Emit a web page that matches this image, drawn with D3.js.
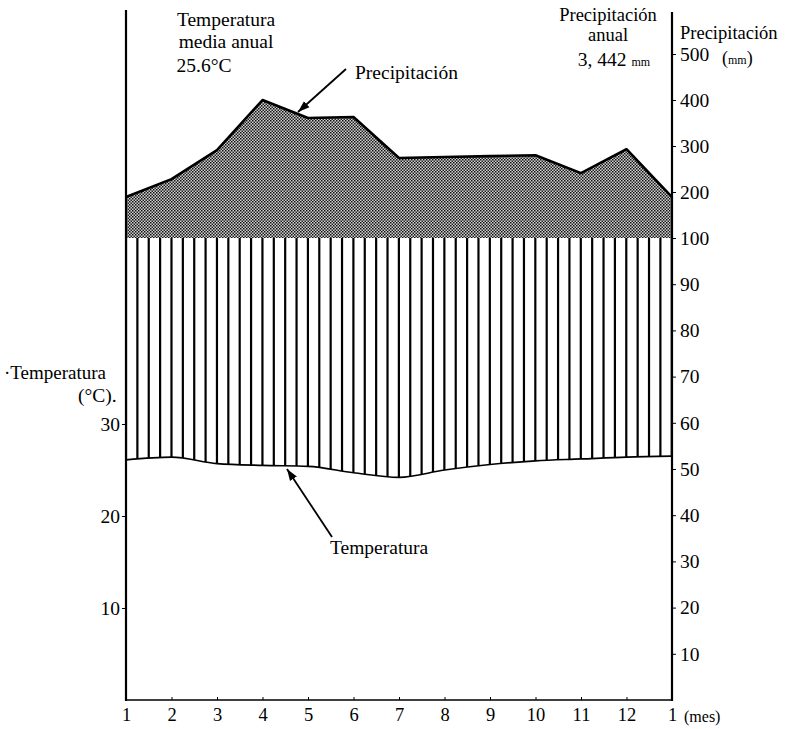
<!doctype html>
<html>
<head>
<meta charset="UTF-8">
<script src="https://d3js.org/d3.v7.min.js"></script>
<style>
  body { margin: 0; background: #fff; }
  text { font-family: "Liberation Serif", "DejaVu Serif", serif; fill: #000; }
</style>
</head>
<body>
<script>
// months 1..12 and back to 1
var months = [1,2,3,4,5,6,7,8,9,10,11,12,1];
// monthly precipitation (mm), January repeated at the end
var precip = [189,228,291,400,361,363,274,276,278,280,241,293,189];
// monthly mean temperature (°C)
var temp = [26.1,26.4,25.7,25.5,25.4,24.7,24.2,25.0,25.6,26.0,26.2,26.4,26.5];
var tempTicks = [10,20,30];
var precipTicks = [10,20,30,40,50,60,70,80,90,100,200,300,400,500];

var W = 795, H = 729;
var svg = d3.select("body").append("svg").attr("width", W).attr("height", H);
svg.append("rect").attr("width", W).attr("height", H).attr("fill", "white");

var x = d3.scaleLinear().domain([0, 12]).range([126, 672]);
var yT = d3.scaleLinear().domain([0, 30]).range([700, 424]);
var yP = d3.scaleLinear().domain([0, 100, 500]).range([700, 238, 54]);

var defs = svg.append("defs");
// stipple pattern for precipitation above 100 mm
var pat = defs.append("pattern").attr("id", "stip").attr("patternUnits", "userSpaceOnUse")
  .attr("width", 3).attr("height", 3);
pat.append("rect").attr("width", 3).attr("height", 3).attr("fill", "#cfcfcf");
pat.append("rect").attr("x", 0).attr("y", 0).attr("width", 1.5).attr("height", 1.5).attr("fill", "#111");
pat.append("rect").attr("x", 1.5).attr("y", 1.5).attr("width", 1.5).attr("height", 1.5).attr("fill", "#222");

var tempCurve = d3.curveMonotoneX;

// clip for hatching: between temperature line and 100 mm line
var hatchArea = d3.area()
  .x(function(d, i) { return x(i); })
  .y0(yP(100))
  .y1(function(d) { return yT(d); })
  .curve(tempCurve);
defs.append("clipPath").attr("id", "hclip").append("path").attr("d", hatchArea(temp));

var hx = d3.range(126, 673, 11.37);
svg.append("g").attr("clip-path", "url(#hclip)")
  .selectAll("line").data(hx).enter().append("line")
  .attr("x1", function(d) { return d; }).attr("x2", function(d) { return d; })
  .attr("y1", yP(100)).attr("y2", 705)
  .attr("stroke", "#000").attr("stroke-width", 2.2);

// precipitation above 100 mm
var pArea = d3.area()
  .x(function(d, i) { return x(i); })
  .y0(yP(100))
  .y1(function(d) { return yP(d); });
svg.append("path").attr("d", pArea(precip)).attr("fill", "url(#stip)");

var pLine = d3.line().x(function(d, i) { return x(i); }).y(function(d) { return yP(d); });
svg.append("path").attr("d", pLine(precip)).attr("fill", "none")
  .attr("stroke", "#000").attr("stroke-width", 2.6).attr("stroke-linejoin", "round");

var tLine = d3.line().x(function(d, i) { return x(i); }).y(function(d) { return yT(d); }).curve(tempCurve);
svg.append("path").attr("d", tLine(temp)).attr("fill", "none")
  .attr("stroke", "#000").attr("stroke-width", 1.7);

// axes frame
svg.append("line").attr("x1", 126).attr("x2", 126).attr("y1", 10).attr("y2", 701)
  .attr("stroke", "#000").attr("stroke-width", 2.2);
svg.append("line").attr("x1", 672).attr("x2", 672).attr("y1", 12).attr("y2", 701)
  .attr("stroke", "#000").attr("stroke-width", 2.2);
svg.append("line").attr("x1", 126).attr("x2", 672).attr("y1", 700).attr("y2", 700)
  .attr("stroke", "#000").attr("stroke-width", 1.5);

// left temperature axis
var gl = svg.append("g").attr("transform", "translate(126,0)")
  .call(d3.axisLeft(yT).tickValues(tempTicks).tickSize(4).tickPadding(2).tickFormat(d3.format("d")));
gl.select(".domain").remove();
gl.selectAll("text").style("font-size", "19.5px").attr("font-family", null);

// right precipitation axis
var gr = svg.append("g").attr("transform", "translate(672,0)")
  .call(d3.axisRight(yP).tickValues(precipTicks).tickSize(4).tickPadding(4).tickFormat(d3.format("d")));
gr.select(".domain").remove();
gr.selectAll("text").style("font-size", "19.5px").attr("font-family", null);

// bottom month axis
var gb = svg.append("g").attr("transform", "translate(0,700)")
  .call(d3.axisBottom(x).tickValues(d3.range(13)).tickSize(-3).tickPadding(8)
    .tickFormat(function(d) { return months[d]; }));
gb.select(".domain").remove();
gb.selectAll("text").style("font-size", "18.5px").attr("font-family", null);
svg.append("text").attr("x", 684).attr("y", 722).style("font-size", "16px").text("(mes)");

function label(lines, cx, anchor, size) {
  lines.forEach(function(l) {
    svg.append("text").attr("x", cx + (l[2] || 0)).attr("y", l[1]).attr("text-anchor", anchor)
      .style("font-size", size + "px").text(l[0]);
  });
}
label([["Temperatura", 26], ["media anual", 48], ["25.6°C", 72, -22]], 226, "middle", 19.5);
label([["Precipitación", 21], ["anual", 41]], 608, "middle", 18.5);
svg.append("text").attr("x", 614).attr("y", 66).attr("text-anchor", "middle").style("font-size", "19.5px")
  .html('3, 442 <tspan style="font-size:12px">mm</tspan>');
svg.append("text").attr("x", 680).attr("y", 39).style("font-size", "18.5px").text("Precipitación");
svg.append("text").attr("x", 722).attr("y", 64).style("font-size", "18px")
  .html('(<tspan style="font-size:12px">mm</tspan>)');
svg.append("text").attr("x", 4).attr("y", 379).style("font-size", "19px").text("·Temperatura");
svg.append("text").attr("x", 78).attr("y", 402).style("font-size", "19.5px").text("(°C).");
svg.append("text").attr("x", 355).attr("y", 79).style("font-size", "19.5px").text("Precipitación");
svg.append("text").attr("x", 330).attr("y", 554).style("font-size", "19.5px").text("Temperatura");

// arrows
defs.append("marker").attr("id", "ah").attr("viewBox", "0 0 10 10").attr("refX", 10).attr("refY", 5)
  .attr("markerWidth", 6.5).attr("markerHeight", 6.5).attr("orient", "auto")
  .append("path").attr("d", "M0,1.5L10,5L0,8.5Z").attr("fill", "#000");
svg.append("line").attr("x1", 346).attr("y1", 69).attr("x2", 298).attr("y2", 112)
  .attr("stroke", "#000").attr("stroke-width", 1.8).attr("marker-end", "url(#ah)");
svg.append("line").attr("x1", 332).attr("y1", 537).attr("x2", 287).attr("y2", 469)
  .attr("stroke", "#000").attr("stroke-width", 1.8).attr("marker-end", "url(#ah)");
</script>
</body>
</html>
